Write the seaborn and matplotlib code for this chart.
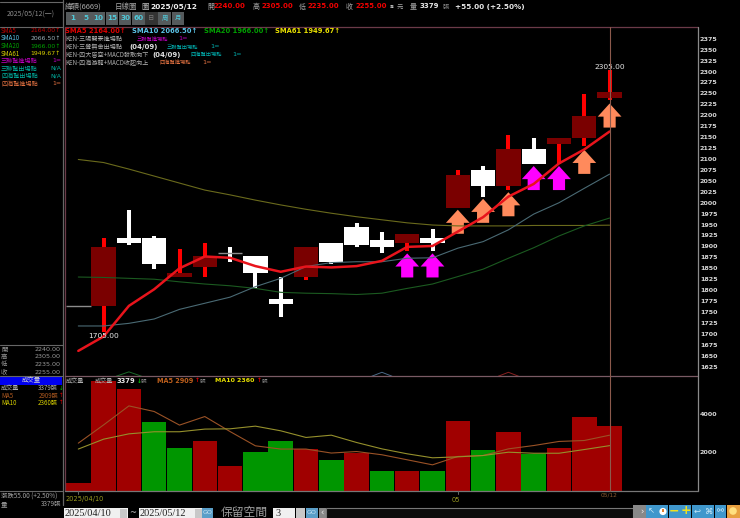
import matplotlib
matplotlib.use("Agg")
import matplotlib.pyplot as plt
import seaborn as sns
import numpy as np
import pandas as pd
from matplotlib.patches import Rectangle, Circle

sns.set_theme(style="dark")
plt.rcParams['font.family'] = ['Noto Sans CJK TC', 'DejaVu Sans']

W, H = 740, 518
days = list(range(22))
opens  = [1765,1765,1920,1920,1830,1855,1885,1880,1780,1830,1910,1945,1915,1910,1920,1990,2075,2040,2125,2135,2150,2240]
closes = [1765,1900,1910,1860,1840,1880,1885,1840,1770,1900,1865,1905,1900,1930,1910,2065,2040,2125,2090,2150,2200,2255]
highs  = [1765,1920,1985,1925,1895,1910,1900,1880,1830,1900,1910,1955,1935,1930,1940,2075,2085,2155,2150,2150,2250,2305]
lows   = [1765,1705,1905,1850,1830,1830,1865,1805,1740,1825,1860,1900,1885,1890,1890,1990,2015,2030,2090,2090,2130,2235]
sma5   = [1662,1695,1765,1803,1851,1878,1875,1856,1843,1855,1853,1856,1868,1900,1902,1935,1968,2015,2044,2091,2123,2164]
sma10  = [1719,1719,1725,1735,1757,1771,1785,1809,1828,1855,1864,1866,1866,1874,1875,1897,1912,1939,1975,2001,2034,2066.5]
sma20  = [1831,1830,1828,1826,1820,1815,1811,1805,1796,1794,1793,1791,1794,1805,1815,1832,1849,1874,1898,1925,1948,1966]
sma61  = [2100,2093,2078,2062,2046,2030,2019,2007,1996,1986,1977,1969,1962,1955,1950,1948,1948,1948,1949,1949,1949,1949.67]
volume = [390,5770,5350,3580,2230,2610,1315,2050,2580,2180,1615,1970,1050,1050,1020,3630,2140,3070,1930,2230,3840,3379]
vol_up = [1,1,1,0,0,1,1,0,0,1,0,1,0,1,0,1,0,1,0,1,1,1]
ma5    = [2490,3450,4450,4155,3440,3890,3100,2350,2180,2180,1970,2050,1880,1615,1350,1790,1840,2190,2365,2580,2630,2909]
ma10   = [2180,2700,2980,3090,3090,3230,3245,3385,3140,2790,2910,2525,2190,1930,1720,1770,1840,2015,1960,1960,2155,2360]
enter_days = [13,14,18,19]
enter_tips = [1885,1885,2085,2085]
exit_days  = [15,16,17,20,21]
exit_tips  = [1985,2010,2025,2122,2228]
arc_days = [[1.5,2,2.5],[11.6,12,12.4],[16.6,17,17.4]]
arc_vals = [[1604,1614,1604],[1604,1613,1604],[1604,1613,1604]]
price_ticks = list(range(1625,2400,25))
vol_ticks = [2000,4000]
buttons = ['1','5','10','15','30','60','日','周','月']

BG = '#000000'
fig = plt.figure(figsize=(W/100, H/100), dpi=100, facecolor=BG)

def axes_px(x0, y0, x1, y1, **kw):
    return fig.add_axes([x0/W, 1-y1/H, (x1-x0)/W, (y1-y0)/H], **kw)

ui = axes_px(0, 0, W, H, facecolor=BG)
ui.set_xlim(0, W); ui.set_ylim(H, 0); ui.axis('off')

X0, X1 = 64.5, 697.5
PY0, PY1 = 26.5, 376
px_per_unit = 0.437
def price_of(y): return 2375-(y-39.3)/px_per_unit
xl = ((X0-78.3)/25.3, (X1-78.3)/25.3)
ax = axes_px(X0, PY0, X1, PY1, facecolor=BG)
ax.set_xlim(*xl); ax.set_ylim(price_of(PY1), price_of(PY0))
VY0, VY1 = 376, 490.5
vax = axes_px(X0, VY0, X1, VY1, facecolor=BG)
vax.set_xlim(*xl); vax.set_ylim(0, (VY1-VY0)*52.6)

DARK = '#7a0000'; WICK = '#ff0000'; WHITE = '#ffffff'
bw = 0.49
for i, o, c, h, l in zip(days, opens, closes, highs, lows):
    up = c > o
    flat = c == o
    wick = WICK if up else WHITE
    if h != l:
        ax.vlines(i, l, h, color=wick, lw=2.9, zorder=2)
    if flat:
        ax.hlines(o, i-bw, i+bw, color='#8c8c8c', lw=1, zorder=3)
    else:
        ax.bar(i, abs(c-o), bottom=min(o, c), width=2*bw-0.02, color=DARK if up else WHITE, lw=0, zorder=3)

def arrow(ax, i, tip, color):
    hw, sw, total, head = 0.47, 0.24, 55, 30
    xs = [i, i+hw, i+sw, i+sw, i-sw, i-sw, i-hw]
    ys = [tip, tip-head, tip-head, tip-total, tip-total, tip-head, tip-head]
    ax.fill(xs, ys, color=color, lw=0, zorder=4)
for i, t_ in zip(enter_days, enter_tips):
    arrow(ax, i, t_, '#ff00ff')
for i, t_ in zip(exit_days, exit_tips):
    arrow(ax, i, t_, '#ff8a5c')

frame = pd.DataFrame({'day': days, 'sma5': sma5, 'sma10': sma10, 'sma20': sma20, 'sma61': sma61})
for col, color, lw in [('sma61', '#6a6a1c', 0.8), ('sma20', '#1b5a20', 0.8), ('sma10', '#4a6a74', 0.8), ('sma5', '#e8141c', 1.8)]:
    sns.lineplot(data=frame, x='day', y=col, color=color, lw=lw, ax=ax, zorder=5, legend=False)
for ad, av, ac in zip(arc_days, arc_vals, ['#1b6a2a', '#4a6a88', '#8a2020']):
    ax.plot(ad, av, color=ac, lw=0.7, zorder=5)
ax.set_xlim(*xl); ax.set_ylim(price_of(PY1), price_of(PY0))
ax.set_xticks([]); ax.set_yticks([]); ax.set_xlabel(''); ax.set_ylabel('')
ax.text(21, 2312, '2305.00', color='#e8e8e8', fontsize=5.4, ha='center', va='center', family='DejaVu Sans', zorder=7)
ax.text(1, 1696, '1705.00', color='#e8e8e8', fontsize=5.4, ha='center', va='center', family='DejaVu Sans', zorder=7)

vdf = pd.DataFrame({'day': days, 'volume': volume, 'ma5': ma5, 'ma10': ma10})
vax.bar(days, volume, width=0.97, color=['#a00000' if u else '#009600' for u in vol_up], lw=0, zorder=2)
sns.lineplot(data=vdf, x='day', y='ma5', color='#9a5226', lw=0.8, ax=vax, zorder=3, legend=False)
sns.lineplot(data=vdf, x='day', y='ma10', color='#95902c', lw=0.8, ax=vax, zorder=3, legend=False)
vax.set_xlim(*xl); vax.set_ylim(0, (VY1-VY0)*52.6)
vax.set_xticks([]); vax.set_yticks([]); vax.set_xlabel(''); vax.set_ylabel('')

for a in (ax, vax):
    a.grid(False)
    for s in a.spines.values():
        s.set_visible(False)

fr = '#6b3a48'
ui.set_zorder(10); ui.patch.set_alpha(0)
ui.plot([X0, X1], [26.5, 26.5], color=fr, lw=0.9)
ui.plot([X0, X0], [26.5, 491], color=fr, lw=0.9)
ui.plot([X0, X1], [376, 376], color='#7a5a64', lw=0.9)
ui.plot([X1, X1], [26.5, 491], color='#8a8a8a', lw=0.9)
ui.plot([X0, X1], [491, 491], color='#777777', lw=0.9)
ui.plot([609.5, 609.5], [26.5, 491], color='#8c5a4c', lw=0.8)
ui.plot([62.5, 62.5], [0, 505], color='#666666', lw=0.9)

M = 'DejaVu Sans'
for v in price_ticks:
    ui.text(700, 39.3+(2375-v)*px_per_unit, str(v), color='#d8d8d8', fontsize=4.6, va='center', family=M, fontweight='bold')
for v in vol_ticks:
    ui.text(700, VY1-v/52.6, str(v), color='#d8d8d8', fontsize=4.6, va='center', family=M, fontweight='bold')

def t(x, y, s, c='#cccccc', fs=5, ha='left', **kw):
    ui.text(x, y, s, color=c, fontsize=fs, ha=ha, va='center', **kw)

# header
t(65, 6.5, '緯穎(6669)', '#a8a8a8', 5.4)
t(115, 6.5, '日線圖', '#a8a8a8', 5.4)
t(141, 6.5, '圖', '#c0c0c0', 5.4)
t(150, 6.5, '2025/05/12', '#f0f0f0', 5.4, family=M, fontweight='bold')
R = '#f00000'
for lx, ln, vx, val in [(207, '開', 214, '2240.00'), (253, '高', 262, '2305.00'), (299, '低', 308, '2235.00'), (346, '收', 355, '2255.00')]:
    t(lx, 6.5, ln, '#a8a8a8', 5.0)
    t(vx, 6.5, val, R, 5.0, family=M, fontweight='bold')
t(390, 6.5, 's', '#e0e0e0', 4.6, family=M, fontweight='bold')
t(397, 6.5, '元', '#a8a8a8', 4.6)
t(410, 6.5, '量', '#a8a8a8', 5.0)
t(420, 6.5, '3379', '#e8e8e8', 5.0, family=M, fontweight='bold')
t(443, 6.5, '張', '#888888', 4.6)
t(455, 6.5, '+55.00 (+2.50%)', '#e8e8e8', 5.2, family=M, fontweight='bold')

for k, b in enumerate(buttons):
    x = 66+k*13.2
    ui.add_patch(Rectangle((x, 12), 12.6, 12.5, color='#333333' if b == '日' else '#555a5c', lw=0))
    t(x+6.3, 18.2, b, '#777777' if b == '日' else '#50c8d8', 5.2 if k < 6 else 4.6, ha='center',
      family=M if k < 6 else 'Noto Sans CJK TC', fontweight='bold' if k < 6 else 'normal')

# indicator legend
t(65, 31, 'SMA5 2164.00↑', '#e00000', 4.9, family=M, fontweight='bold')
t(132, 31, 'SMA10 2066.50↑', '#5cc4e8', 4.9, family=M, fontweight='bold')
t(204, 31, 'SMA20 1966.00↑', '#00a000', 4.9, family=M, fontweight='bold')
t(275, 31, 'SMA61 1949.67↑', '#e8e000', 4.9, family=M, fontweight='bold')
t(65, 39, 'KEN-三陽開泰進場點', '#b0b0b0', 4.4)
t(137, 39, '三聯幫進場點', '#c000c0', 3.8); t(178, 39, '1=', '#c000c0', 4.6, family=M)
t(65, 47, 'KEN-三覺無舍出場點', '#b0b0b0', 4.4)
t(129, 47, '(04/09)', '#e0e0e0', 5.0, family=M, fontweight='bold')
t(167, 47, '三聯幫出場點', '#00b0b0', 3.8); t(210, 47, '1=', '#00b0b0', 4.6, family=M)
t(65, 55, 'KEN-四大皆空+MACD發散向下', '#b0b0b0', 4.4)
t(152, 55, '(04/09)', '#e0e0e0', 5.0, family=M, fontweight='bold')
t(191, 55, '四海幫出場點', '#00b0b0', 3.8); t(232, 55, '1=', '#00b0b0', 4.6, family=M)
t(65, 63, 'KEN-四海游龍+MACD收起向上', '#b0b0b0', 4.4)
t(160, 63, '四海幫進場點', '#e07040', 3.8); t(202, 63, '1=', '#e07040', 4.6, family=M)

# date labels
t(66, 499.5, '2025/04/10', '#9a9a20', 4.8, family=M)
t(456, 499.5, '05', '#9a9a20', 4.8, ha='center', family=M)
t(609.5, 495, '05/12', '#8c5a30', 4.2, ha='center', family=M)
ui.plot([78.3, 78.3], [491, 494], color='#666666', lw=0.7)
ui.plot([457.8, 457.8], [491, 494], color='#666666', lw=0.7)

# volume legend
t(66, 381, '成交量', '#b0b0b0', 4.4)
t(95, 381, '成交量', '#b0b0b0', 4.4)
t(117, 381, '3379', '#e8e8e8', 4.9, family=M, fontweight='bold')
t(136.5, 381, '↓', '#00c000', 4.2, family=M, fontweight='bold')
t(141, 381, '張', '#888888', 4.0)
t(157, 381, 'MA5 2909', '#c0601c', 4.7, family=M, fontweight='bold')
t(194.5, 381, '↑', '#e00000', 4.2, family=M, fontweight='bold')
t(200, 381, '張', '#888888', 4.0)
t(215, 381, 'MA10 2360', '#e8e000', 4.5, family=M, fontweight='bold')
t(256.5, 381, '↑', '#e00000', 4.2, family=M, fontweight='bold')
t(262, 381, '張', '#888888', 4.0)

# left sidebar
ui.plot([0, 62.5], [1.5, 1.5], color='#666666', lw=0.8)
ui.plot([0, 62.5], [26.5, 26.5], color='#666666', lw=0.8)
t(31, 14, '2025/05/12(一)', '#8a8a8a', 5, ha='center')
side = [('SMA5', '2164.00↑', '#c00000'), ('SMA10', '2066.50↑', '#5cc4e8'), ('SMA20', '1966.00↑', '#00a000'), ('SMA61', '1949.67↑', '#d8d000'),
        ('三聯幫進場點', '1=', '#c000c0'), ('三聯幫出場點', 'N/A', '#00b0a0'), ('四海幫出場點', 'N/A', '#00b0a0'), ('四海幫進場點', '1=', '#e07040')]
for k, (a, b, c) in enumerate(side):
    y = 31+k*7.5
    t(1, y, a, c, 4.4)
    t(61, y, b, c if k != 1 else '#9ab0b8', 4.4, ha='right', family=M)
ui.plot([0, 62.5], [345, 345], color='#666666', lw=0.8)
for y, a, b in [(349.5, '開', '2240.00'), (357, '高', '2305.00'), (364.5, '低', '2235.00'), (372, '收', '2255.00')]:
    t(1, y, a, '#999999', 4.6)
    t(61, y, b, '#999999', 4.6, ha='right', family=M)
ui.plot([0, 62.5], [376, 376], color='#666666', lw=0.8)
ui.add_patch(Rectangle((0, 377), 62, 7.5, color='#0000f0', lw=0))
t(31, 380.5, '成交量', '#d0d0d0', 4.6, ha='center')
for y, a, b, c, ar, ac in [(388, '成交量', '3379張', '#b0b0b0', '↓', '#00c000'), (395.5, 'MA5', '2909張', '#b05a20', '↑', '#e00000'), (403, 'MA10', '2360張', '#d8d000', '↑', '#e00000')]:
    t(1, y, a, c, 4.4)
    t(58, y, b, c, 4.4, ha='right')
    t(58.5, y, ar, ac, 4.0, family=M)
ui.plot([0, 62.5], [491, 491], color='#666666', lw=0.8)
t(1, 496.5, '漲跌55.00 (+2.50%)', '#a0a0a0', 4.6)
t(1, 504, '量', '#a0a0a0', 4.6)
t(61, 504, '3379張', '#a0a0a0', 4.6, ha='right')

# bottom toolbar
ui.add_patch(Rectangle((64, 507.5), 64, 11, color='#f0f0f0', lw=0))
t(65, 513.5, '2025/04/10', '#222222', 7.4, family='Liberation Serif')
ui.add_patch(Rectangle((120, 508.5), 7, 9, color='#c8c8c8', lw=0))
t(133, 513, '~', '#bbbbbb', 6, ha='center', family=M)
ui.add_patch(Rectangle((139, 507.5), 63, 11, color='#f0f0f0', lw=0))
t(140, 513.5, '2025/05/12', '#222222', 7.4, family='Liberation Serif')
ui.add_patch(Rectangle((195, 508.5), 7, 9, color='#c8c8c8', lw=0))
ui.add_patch(Rectangle((202, 507.5), 11, 11, color='#5a9ec8', lw=0))
t(207.5, 513, 'GO', '#c8e4f4', 4.6, ha='center', family=M)
t(221, 512.5, '保留空間', '#a0a0a0', 8.5)
ui.add_patch(Rectangle((273, 507.5), 22, 11, color='#f0f0f0', lw=0))
t(275, 513.5, '3', '#222222', 7.4, family='Liberation Serif')
ui.add_patch(Rectangle((296, 507.5), 9, 11, color='#c8c8c8', lw=0))
ui.add_patch(Rectangle((306, 507.5), 12, 11, color='#5a9ec8', lw=0))
t(312, 513, 'GO', '#c8e4f4', 4.6, ha='center', family=M)
ui.add_patch(Rectangle((319, 507.5), 7, 11, color='#888888', lw=0))
t(322.5, 513, '‹', '#f0f0f0', 6, ha='center', family=M)
ui.add_patch(Rectangle((326, 507.5), 307, 11, color='#0c0c0c', ec='#777777', lw=0.8))
ui.add_patch(Rectangle((633, 505), 13, 13, color='#888888', lw=0))
t(641.5, 512.5, '›', '#f0f0f0', 6, ha='center', family=M)
icons = ['↖', '', '−', '+', '↩', '⌘', '⚯']
for k, g in enumerate(icons):
    x = 646+k*11.45
    ui.add_patch(Rectangle((x, 505), 11, 13, color='#3f97cc', lw=0))
    if k == 1:
        ui.add_patch(Circle((x+5.5, 511.5), 3.6, color='#ffffff', lw=0))
        ui.add_patch(Rectangle((x+5, 509), 1.4, 2.8, color='#e08030', lw=0))
    elif g in ('−', '+'):
        t(x+5.5, 511, g, '#f0e020', 9, ha='center', family=M, fontweight='bold')
    elif g:
        t(x+5.5, 511, g, '#c8e8f8', 6, ha='center', family=M)
ui.add_patch(Rectangle((726.5, 505), 13, 13, color='#e8a040', lw=0))
ui.add_patch(Circle((733, 511), 3.8, color='#ffe080', lw=0))

fig.savefig('out.png', dpi=100, facecolor=BG)
